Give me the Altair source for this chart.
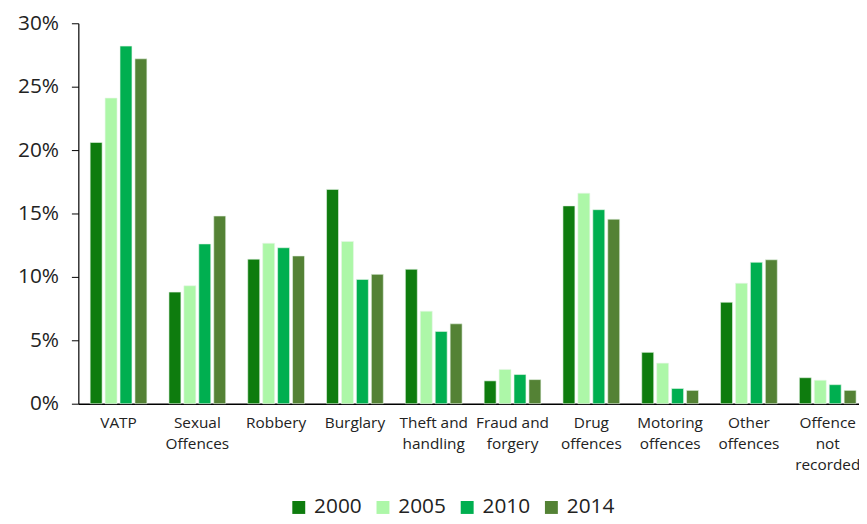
import altair as alt
import pandas as pd

categories = ["VATP", "Sexual Offences", "Robbery", "Burglary", "Theft and handling",
              "Fraud and forgery", "Drug offences", "Motoring offences", "Other offences",
              "Offence not recorded"]
label_lines = [["VATP"], ["Sexual", "Offences"], ["Robbery"], ["Burglary"], ["Theft and", "handling"],
               ["Fraud and", "forgery"], ["Drug", "offences"], ["Motoring", "offences"], ["Other", "offences"],
               ["Offence", "not", "recorded"]]
years = ["2000", "2005", "2010", "2014"]
colors = ["#0E7C0E", "#ADF7A8", "#00AF50", "#548235"]

v2000 = [20.6, 8.8, 11.4, 16.9, 10.6, 1.8, 15.6, 4.05, 8.0, 2.05]
v2005 = [24.1, 9.3, 12.65, 12.8, 7.3, 2.7, 16.6, 3.2, 9.5, 1.85]
v2010 = [28.2, 12.6, 12.3, 9.8, 5.7, 2.3, 15.3, 1.2, 11.15, 1.5]
v2014 = [27.2, 14.8, 11.65, 10.2, 6.3, 1.9, 14.55, 1.05, 11.35, 1.05]

rows = []
for series, yr in zip([v2000, v2005, v2010, v2014], years):
    for c, v in zip(categories, series):
        rows.append({"category": c, "year": yr, "value": v})
df = pd.DataFrame(rows)

def js_list(lst):
    return "[" + ",".join("'" + s + "'" for s in lst) + "]"

label_expr = ""
for c, lines in zip(categories, label_lines):
    label_expr += f"datum.label == '{c}' ? {js_list(lines)} : "
label_expr += "datum.label"

font = "Open Sans"

chart = alt.Chart(df).mark_bar(stroke="#e8f5e8", strokeWidth=0.6).encode(
    x=alt.X("category:N", sort=categories,
            scale=alt.Scale(paddingInner=0.28, paddingOuter=0.15, range=[0, 797]),
            axis=alt.Axis(title=None, labelAngle=0, ticks=False, domainColor="#000000",
                          domainWidth=1.5, labelFontSize=15.5, labelColor="#222222",
                          labelPadding=12, labelExpr=label_expr, labelLineHeight=21,
                          labelBaseline="top", labelFont=font)),
    xOffset=alt.XOffset("year:N", sort=years, scale=alt.Scale(paddingInner=0.2)),
    y=alt.Y("value:Q", scale=alt.Scale(domain=[0, 30]),
            axis=alt.Axis(title=None, values=[0, 5, 10, 15, 20, 25, 30], grid=False,
                          labelExpr="datum.value + '%'", labelFontSize=21,
                          labelColor="#222222", tickColor="#000000", tickSize=7,
                          domainColor="#000000", domainWidth=1.2, labelPadding=13,
                          labelFont=font)),
    color=alt.Color("year:N", sort=years,
                    scale=alt.Scale(domain=years, range=colors),
                    legend=alt.Legend(title=None, orient="none", direction="horizontal",
                                      legendX=212, legendY=478,
                                      symbolType="square", symbolSize=170, symbolStrokeWidth=0,
                                      labelFontSize=21, labelFont=font, labelColor="#222222",
                                      columnPadding=10, labelOffset=5)),
).properties(
    width=788, height=384,
    autosize=alt.AutoSizeParams(type="none"),
    padding={"left": 71, "top": 13, "right": 0, "bottom": 118},
).configure_view(stroke=None)

chart.save("out.html", embed_options={"renderer": "svg", "actions": False})
